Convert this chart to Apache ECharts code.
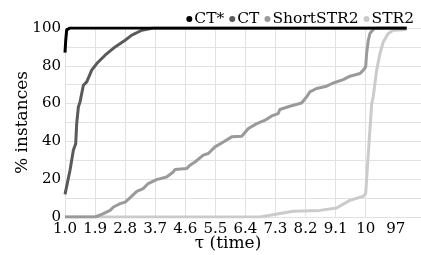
<!DOCTYPE html>
<html>
<head>
<meta charset="utf-8">
<script src="https://cdn.jsdelivr.net/npm/echarts@6/dist/echarts.min.js"></script>
<style>
    html, body { margin: 0; padding: 0; background: #fff; }
    #container0 { width: 421px; height: 255px; }
</style>
</head>
<body>
<div id="container0"></div>
<script>
// tick labels of the tau axis (1.0 .. 10 linear, then a squeezed tail up to 97)
var tauLabels = ['1.0', '1.9', '2.8', '3.7', '4.6', '5.5', '6.4', '7.3', '8.2', '9.1', '10', '97'];
var names = ['CT*', 'CT', 'ShortSTR2', 'STR2'];
var colors = ['#000000', '#5a5a5a', '#9a9a9a', '#cbcbcb'];

// [tau, % instances]
var ctStar = [[1.0, 87], [1.02, 93], [1.05, 99], [1.15, 100], [97, 100]];
var ct = [[1.0, 12], [1.15, 24.7], [1.25, 35.3], [1.32, 38.8], [1.35, 49.4], [1.40, 58.2], [1.45, 60.9],
    [1.55, 69.7], [1.65, 71.5], [1.80, 77.7], [1.95, 81.2], [2.20, 85.6], [2.50, 90], [2.80, 93.5],
    [3.00, 96.2], [3.30, 98.8], [3.64, 100], [97, 100]];
var shortStr2 = [[1.0, 0], [1.9, 0], [2.10, 1.4], [2.35, 3.5], [2.45, 5.3], [2.65, 7.1], [2.80, 7.9],
    [2.95, 10.3], [3.15, 13.6], [3.34, 15], [3.49, 17.7], [3.74, 19.8], [4.04, 21.2], [4.24, 23.8],
    [4.29, 25.1], [4.64, 25.6], [4.74, 27.4], [4.89, 29.1], [5.14, 32.7], [5.29, 33.6], [5.49, 37.1],
    [5.74, 39.7], [5.99, 42.4], [6.29, 42.7], [6.49, 46.8], [6.74, 49.4], [6.99, 51.2], [7.19, 53.5],
    [7.38, 54.7], [7.43, 56.9], [7.73, 58.6], [8.08, 60.3], [8.23, 63.5], [8.33, 66.2], [8.53, 68],
    [8.83, 69.2], [9.03, 70.9], [9.33, 72.7], [9.53, 74.5], [9.83, 75.9], [9.93, 77.7], [10.0, 79.4],
    [12, 86.5], [15.6, 93.5], [19, 97.1], [26, 99.2], [32, 100], [97, 100]];
var str2 = [[1.0, 0], [6.84, 0], [7.14, 0.9], [7.83, 3.0], [8.63, 3.5], [9.13, 4.8], [9.53, 8.8],
    [9.93, 11], [10.0, 12.4], [15.6, 33.6], [22.8, 60], [26, 63.5], [33.4, 77.7], [40.4, 86.5],
    [47.4, 92.6], [58, 97.1], [68.8, 98.8], [97, 99.2]];

var fontName = 'DejaVu Serif';

// axis position of a tau value: one step per 0.9 up to 10, compressed tail after
function tauPos(tau) {
    if (tau <= 10) return (tau - 1) / 0.9;
    return 10 + (tau - 10) * (1.36 / 87);
}
function toPos(arr) {
    return arr.map(function (d) { return [tauPos(d[0]), d[1]]; });
}

var opt_chart_0 = {
    animation: false,
    backgroundColor: '#fff',
    color: colors,
    legend: {
        data: names,
        right: 2,
        top: 6,
        icon: 'circle',
        itemWidth: 6,
        itemHeight: 6,
        itemGap: 5,
        textStyle: {
            fontFamily: fontName,
            fontSize: 15.5,
            color: '#000',
            padding: [0, 0, 0, -3]
        }
    },
    grid: [
        // vertical grid lines only (1.0 .. 10)
        { left: 65, top: 28, width: 300.7, height: 189, outerBoundsMode: 'none', containLabel: false },
        // data
        { left: 65, top: 28, right: 0, height: 189, outerBoundsMode: 'none', containLabel: false }
    ],
    xAxis: [
        {
            gridIndex: 0,
            type: 'value',
            min: 0,
            max: 10,
            interval: 1,
            axisLine: { show: false },
            axisTick: { show: false },
            axisLabel: { show: false },
            splitLine: { show: true, lineStyle: { color: '#e2e2e2', width: 1 } }
        },
        {
            gridIndex: 1,
            type: 'value',
            min: 0,
            max: 11.84,
            interval: 1,
            axisLine: { show: false },
            axisTick: { show: false },
            splitLine: { show: false },
            axisLabel: {
                margin: 5,
                fontFamily: fontName,
                fontSize: 15,
                color: '#000',
                showMaxLabel: false,
                formatter: function (v) {
                    var i = Math.round(v);
                    return tauLabels[i] !== undefined ? tauLabels[i] : '';
                }
            },
            name: 'τ (time)',
            nameLocation: 'middle',
            nameGap: 18,
            nameMoveOverlap: false,
            nameTextStyle: {
                fontFamily: fontName,
                fontSize: 17,
                color: '#000',
                padding: [0, 30, 0, 0]
            }
        }
    ],
    yAxis: [
        {
            gridIndex: 0,
            type: 'value',
            min: 0,
            max: 100,
            show: false
        },
        {
            gridIndex: 1,
            type: 'value',
            min: 0,
            max: 100,
            interval: 10,
            axisLine: { show: false },
            axisTick: { show: false },
            splitLine: { show: true, lineStyle: { color: '#e2e2e2', width: 1 } },
            axisLabel: {
                margin: 4,
                fontFamily: fontName,
                fontSize: 15,
                color: '#000',
                formatter: function (v) { return v % 20 === 0 ? String(v) : ''; }
            },
            name: '% instances',
            nameLocation: 'middle',
            nameGap: 34,
            nameMoveOverlap: false,
            nameTextStyle: {
                fontFamily: fontName,
                fontSize: 17,
                color: '#000'
            }
        }
    ],
    series: [
        {
            name: 'STR2', type: 'line', xAxisIndex: 1, yAxisIndex: 1, symbol: 'none',
            itemStyle: { color: colors[3] }, lineStyle: { width: 3, color: colors[3] },
            data: toPos(str2), z: 2
        },
        {
            name: 'ShortSTR2', type: 'line', xAxisIndex: 1, yAxisIndex: 1, symbol: 'none',
            itemStyle: { color: colors[2] }, lineStyle: { width: 3, color: colors[2] },
            data: toPos(shortStr2), z: 3
        },
        {
            name: 'CT', type: 'line', xAxisIndex: 1, yAxisIndex: 1, symbol: 'none',
            itemStyle: { color: colors[1] }, lineStyle: { width: 3, color: colors[1] },
            data: toPos(ct), z: 4
        },
        {
            name: 'CT*', type: 'line', xAxisIndex: 1, yAxisIndex: 1, symbol: 'none',
            itemStyle: { color: colors[0] }, lineStyle: { width: 3, color: colors[0] },
            data: toPos(ctStar), z: 5
        }
    ]
};

var chart_0 = echarts.init(document.getElementById('container0'));
chart_0.setOption(opt_chart_0);
</script>
</body>
</html>
